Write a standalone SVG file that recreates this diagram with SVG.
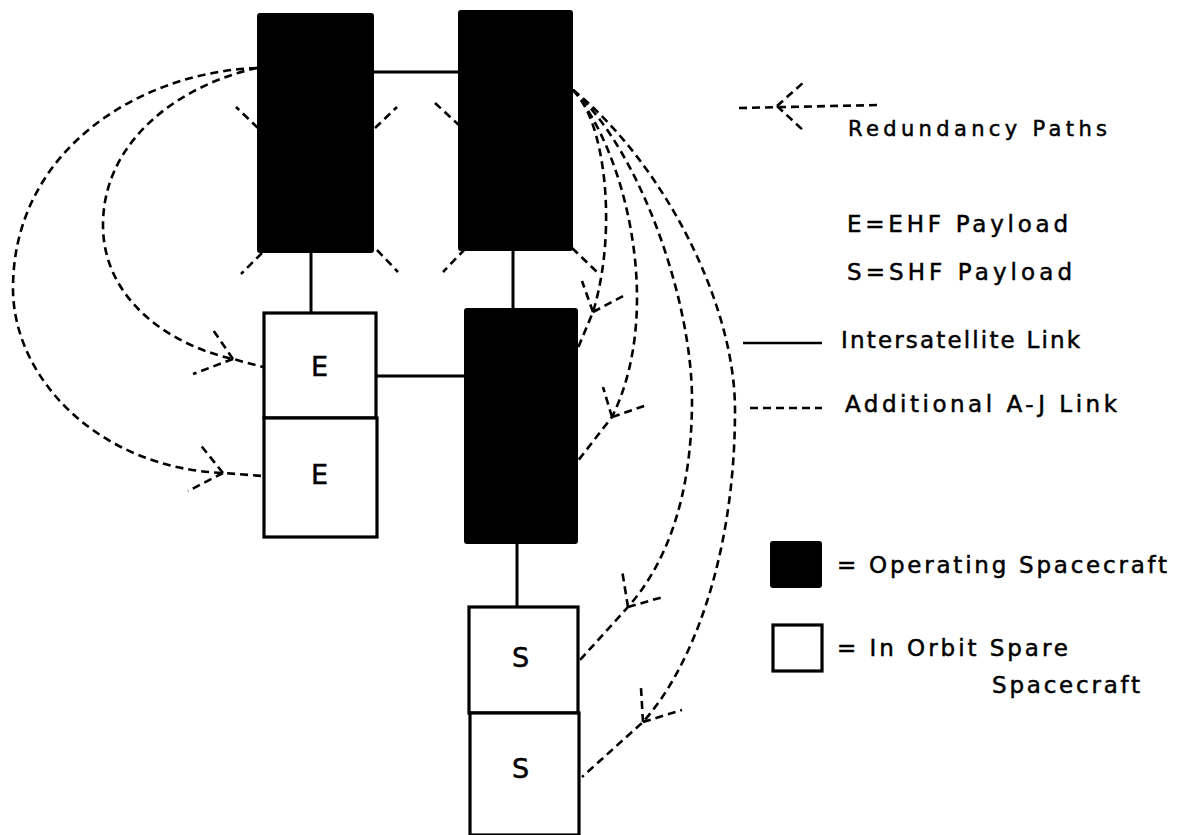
<svg xmlns="http://www.w3.org/2000/svg" width="1184" height="835" viewBox="0 0 1184 835">
<style>
.op{fill:#000;stroke:#000;stroke-width:2}
.sp{fill:#fff;stroke:#000;stroke-width:3.2}
.link{fill:none;stroke:#000;stroke-width:3}
.dash{fill:none;stroke:#000;stroke-width:2.6;stroke-dasharray:8 5}
.lbl{font-family:"DejaVu Sans","Liberation Sans",sans-serif;font-size:23px;fill:#000;stroke:#000;stroke-width:0.5}
.sm{font-size:21px}
.big{font-family:"DejaVu Sans","Liberation Sans",sans-serif;font-size:27px;fill:#000;stroke:#000;stroke-width:0.5}
</style>
<rect width="1184" height="835" fill="#fff"/>
<g id="connectors">
  <!-- intersatellite links -->
  <line class="link" x1="373" y1="72" x2="459" y2="72"/>
  <line class="link" x1="311" y1="252" x2="311" y2="313"/>
  <line class="link" x1="513" y1="250" x2="513" y2="309"/>
  <line class="link" x1="376" y1="376" x2="465" y2="376"/>
  <line class="link" x1="517" y1="543" x2="517" y2="607"/>
  <!-- additional A-J stubs -->
  <path class="dash" d="M258,128 L236,107 M375,128 L397,107 M262,253 L241,274 M377,250 L398,272"/>
  <path class="dash" d="M460,126 L435,103 M465,249 L443,272 M572,248 L597,272"/>
  <!-- redundancy paths, left -->
  <path class="dash" d="M257,68 C140,72 12,150 13,290 C14,380 100,468 223,473 L263,476"/>
  <path class="dash" d="M223,473 L199,443 M223,473 L188,491"/>
  <path class="dash" d="M257,68 C180,85 103,140 103,225 C103,300 170,345 233,359 L263,367"/>
  <path class="dash" d="M233,359 L211,327 M233,359 L193,374"/>
  <!-- redundancy paths, right -->
  <path class="dash" d="M573,90 C605,120 618,230 593,312 L575,355"/>
  <path class="dash" d="M593,312 L582,281 M593,312 L625,295"/>
  <path class="dash" d="M573,90 C625,150 665,310 612,417 L577,462"/>
  <path class="dash" d="M612,417 L603,387 M612,417 L647,405"/>
  <path class="dash" d="M573,90 C640,150 692,300 692,400 C692,500 665,565 628,607 L580,660"/>
  <path class="dash" d="M628,607 L622,570 M628,607 L663,597"/>
  <path class="dash" d="M573,90 C660,160 735,300 735,410 C735,560 690,670 643,722 L582,777"/>
  <path class="dash" d="M643,722 L641,688 M643,722 L682,710"/>
</g>
<g id="sat-top-left"><rect class="op" x="258" y="14" width="115" height="238" rx="2"/></g>
<g id="sat-top-right"><rect class="op" x="459" y="11" width="113" height="239" rx="2"/></g>
<g id="sat-middle"><rect class="op" x="465" y="309" width="112" height="234" rx="2"/></g>
<g id="spare-e1"><rect class="sp" x="264" y="313" width="112" height="105"/><text class="big" x="311" y="376">E</text></g>
<g id="spare-e2"><rect class="sp" x="264" y="418" width="113" height="119"/><text class="big" x="311" y="484">E</text></g>
<g id="spare-s1"><rect class="sp" x="469" y="607" width="109" height="106"/><text class="big" x="512" y="667">S</text></g>
<g id="spare-s2"><rect class="sp" x="470" y="713" width="109" height="122"/><text class="big" x="512" y="778">S</text></g>
<g id="legend">
  <path class="dash" d="M739,108 L880,105"/>
  <path class="dash" d="M777,106 L805,81 M777,106 L805,132"/>
  <text class="lbl sm" x="848" y="136" textLength="259" lengthAdjust="spacing">Redundancy Paths</text>
  <text class="lbl" x="847" y="232" textLength="221" lengthAdjust="spacing">E=EHF Payload</text>
  <text class="lbl" x="847" y="280" textLength="225" lengthAdjust="spacing">S=SHF Payload</text>
  <line class="link" x1="743" y1="343" x2="822" y2="343" style="stroke-width:2.4"/>
  <text class="lbl" x="841" y="348" textLength="239" lengthAdjust="spacing">Intersatellite Link</text>
  <line class="dash" x1="750" y1="408" x2="822" y2="408"/>
  <text class="lbl" x="845" y="412" textLength="272" lengthAdjust="spacing">Additional A-J Link</text>
  <rect class="op" x="771" y="542" width="50" height="45" rx="2"/>
  <text class="lbl" x="837" y="573" textLength="330" lengthAdjust="spacing">= Operating Spacecraft</text>
  <rect class="sp" x="773" y="625" width="49" height="46"/>
  <text class="lbl" x="837" y="656" textLength="231" lengthAdjust="spacing">= In Orbit Spare</text>
  <text class="lbl" x="992" y="693" textLength="148" lengthAdjust="spacing">Spacecraft</text>
</g>
</svg>
